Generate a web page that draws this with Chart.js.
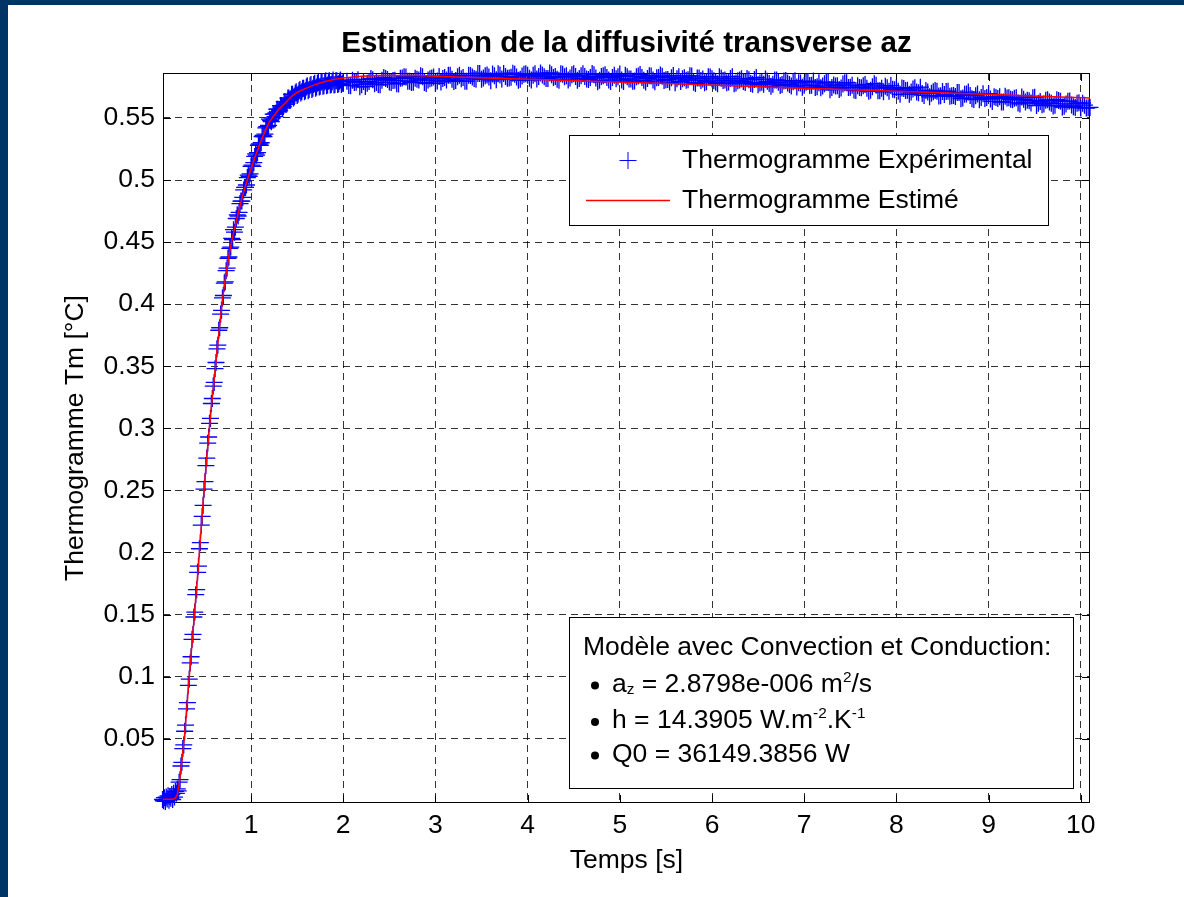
<!DOCTYPE html>
<html>
<head>
<meta charset="utf-8">
<script src="https://cdn.jsdelivr.net/npm/chart.js@4.4.0/dist/chart.umd.min.js"></script>
<style>
  html, body { margin: 0; padding: 0; background: #fff; }
  body { width: 1184px; height: 897px; overflow: hidden; position: relative; }
  #frame { position: absolute; left: 0; top: 0; width: 1184px; height: 897px; box-sizing: border-box;
           border-left: 8px solid #003366; border-top: 5px solid #003366; }
  #wrap { position: absolute; left: 8px; top: 5px; width: 1176px; height: 892px; }
</style>
</head>
<body>
<div id="frame"></div>
<div id="wrap"><canvas id="thermo" width="1176" height="892"></canvas></div>
<script>
// ---- data ----
const xTicks = [1, 2, 3, 4, 5, 6, 7, 8, 9, 10];
const yTicks = [0.05, 0.1, 0.15, 0.2, 0.25, 0.3, 0.35, 0.4, 0.45, 0.5, 0.55];

// experimental thermogram, rising part (0.01 s)
const expTimeRise = [0.04,0.05,0.06,0.07,0.08,0.09,0.10,0.11,0.12,0.13,0.14,0.15,0.16,0.17,0.18,0.19,0.20,
  0.21,0.22,0.23,0.24,0.25,0.26,0.27,0.28,0.29,0.30,0.31,0.32,0.33,0.34,0.35,0.36,0.37,0.38,0.39,0.40,
  0.41,0.42,0.43,0.44,0.45,0.46,0.47,0.48,0.49,0.50,0.51,0.52,0.53,0.54,0.55,0.56,0.57,0.58,0.59,0.60,
  0.61,0.62,0.63,0.64,0.65,0.66,0.67,0.68,0.69,0.70,0.71,0.72,0.73,0.74,0.75,0.76,0.77,0.78,0.79,0.80];
const expTempRise = [0.0010,0.0000,0.0025,-0.0005,0.0030,0.0015,0.0040,0.0005,0.0035,0.0020,0.0050,0.0010,0.0060,0.0030,0.0075,0.0060,0.0095,
  0.0080,0.0150,0.0170,0.0280,0.0310,0.0420,0.0450,0.0560,0.0610,0.0740,0.0790,0.0930,0.0980,0.1110,0.1160,0.1300,0.1340,0.1480,0.1520,0.1660,
  0.1700,0.1840,0.1890,0.2030,0.2080,0.2220,0.2290,0.2380,0.2510,0.2570,0.2700,0.2760,0.2880,0.2930,0.3040,0.3080,0.3200,0.3240,0.3340,0.3370,
  0.3480,0.3530,0.3640,0.3670,0.3790,0.3810,0.3920,0.3950,0.4050,0.4070,0.4170,0.4180,0.4270,0.4290,0.4370,0.4380,0.4450,0.4460,0.4530,0.4520];

// knee (0.01 s)
const expTimeKnee = [0.81,0.82,0.83,0.84,0.85,0.86,0.87,0.88,0.89,0.90,0.91,0.92,0.93,0.94,0.95,0.96,0.97,0.98,0.99,1.00,
  1.01,1.02,1.03,1.04,1.05,1.06,1.07,1.08,1.09,1.10,1.11,1.12,1.13,1.14,1.15,1.16,1.17,1.18,1.19,1.20,
  1.21,1.22,1.23,1.24,1.25,1.26,1.27,1.28,1.29,1.30,1.31,1.32,1.33,1.34,1.35,1.36,1.37,1.38,1.39,1.40,
  1.41,1.42,1.43,1.44,1.45,1.46,1.47,1.48,1.49,1.50,1.51,1.52,1.53,1.54,1.55,1.56,1.57,1.58,1.59,1.60,
  1.61,1.62,1.63,1.64,1.65,1.66,1.67,1.68,1.69,1.70,1.71,1.72,1.73,1.74,1.75,1.76,1.77,1.78,1.79,1.80,
  1.81,1.82,1.83,1.84,1.85,1.86,1.87,1.88,1.89,1.90,1.91,1.92,1.93,1.94,1.95,1.96,1.97,1.98,1.99,2.00];
const expTempKnee = [0.4600,0.4580,0.4620,0.4690,0.4720,0.4710,0.4740,0.4810,0.4830,0.4830,0.4860,0.4920,0.4940,0.4940,0.4960,0.5020,0.5040,0.5030,0.5050,0.5110,
  0.5120,0.5110,0.5140,0.5190,0.5210,0.5200,0.5220,0.5280,0.5290,0.5280,0.5300,0.5350,0.5360,0.5350,0.5370,0.5420,0.5430,0.5430,0.5440,0.5490,
  0.5480,0.5470,0.5500,0.5530,0.5530,0.5510,0.5540,0.5570,0.5570,0.5550,0.5560,0.5600,0.5600,0.5580,0.5590,0.5630,0.5630,0.5610,0.5620,0.5660,
  0.5660,0.5640,0.5650,0.5690,0.5690,0.5660,0.5670,0.5700,0.5710,0.5680,0.5690,0.5720,0.5730,0.5700,0.5710,0.5740,0.5740,0.5710,0.5720,0.5750,
  0.5760,0.5720,0.5730,0.5760,0.5770,0.5730,0.5740,0.5770,0.5780,0.5740,0.5750,0.5780,0.5785,0.5750,0.5755,0.5790,0.5790,0.5755,0.5760,0.5790,
  0.5800,0.5760,0.5765,0.5795,0.5800,0.5765,0.5770,0.5790,0.5805,0.5765,0.5770,0.5800,0.5800,0.5770,0.5775,0.5795,0.5805,0.5770,0.5780,0.5790];

// plateau (0.04 s, two interleaved passes)
const expTimeFlat = [2.04,2.08,2.12,2.16,2.20,2.24,2.28,2.32,2.36,2.40,2.44,2.48,2.52,2.56,2.60,2.64,2.68,2.72,2.76,2.80,
  2.84,2.88,2.92,2.96,3.00,3.04,3.08,3.12,3.16,3.20,3.24,3.28,3.32,3.36,3.40,3.44,3.48,3.52,3.56,3.60,
  3.64,3.68,3.72,3.76,3.80,3.84,3.88,3.92,3.96,4.00,4.04,4.08,4.12,4.16,4.20,4.24,4.28,4.32,4.36,4.40,
  4.44,4.48,4.52,4.56,4.60,4.64,4.68,4.72,4.76,4.80,4.84,4.88,4.92,4.96,5.00,5.04,5.08,5.12,5.16,5.20,
  5.24,5.28,5.32,5.36,5.40,5.44,5.48,5.52,5.56,5.60,5.64,5.68,5.72,5.76,5.80,5.84,5.88,5.92,5.96,6.00,
  6.04,6.08,6.12,6.16,6.20,6.24,6.28,6.32,6.36,6.40,6.44,6.48,6.52,6.56,6.60,6.64,6.68,6.72,6.76,6.80,
  6.84,6.88,6.92,6.96,7.00,7.04,7.08,7.12,7.16,7.20,7.24,7.28,7.32,7.36,7.40,7.44,7.48,7.52,7.56,7.60,
  7.64,7.68,7.72,7.76,7.80,7.84,7.88,7.92,7.96,8.00,8.04,8.08,8.12,8.16,8.20,8.24,8.28,8.32,8.36,8.40,
  8.44,8.48,8.52,8.56,8.60,8.64,8.68,8.72,8.76,8.80,8.84,8.88,8.92,8.96,9.00,9.04,9.08,9.12,9.16,9.20,
  9.24,9.28,9.32,9.36,9.40,9.44,9.48,9.52,9.56,9.60,9.64,9.68,9.72,9.76,9.80,9.84,9.88,9.92,9.96,10.00,
  10.04,10.08,10.10];
const expTempFlat = [0.5795,0.5760,0.5785,0.5808,0.5768,0.5753,0.5793,0.5808,0.5786,0.5768,0.5826,0.5809,0.5785,0.5803,0.5774,0.5821,0.5829,0.5796,0.5787,0.5812,
  0.5839,0.5786,0.5805,0.5822,0.5779,0.5834,0.5817,0.5805,0.5843,0.5794,0.5831,0.5815,0.5796,0.5843,0.5829,0.5812,0.5858,0.5821,0.5846,0.5799,
  0.5839,0.5856,0.5813,0.5833,0.5821,0.5860,0.5830,0.5811,0.5851,0.5843,0.5805,0.5855,0.5833,0.5846,0.5817,0.5863,0.5825,0.5811,0.5855,0.5832,
  0.5806,0.5848,0.5834,0.5817,0.5856,0.5814,0.5826,0.5848,0.5791,0.5833,0.5848,0.5805,0.5826,0.5815,0.5853,0.5794,0.5832,0.5813,0.5798,0.5837,
  0.5826,0.5790,0.5840,0.5806,0.5823,0.5845,0.5802,0.5810,0.5824,0.5783,0.5831,0.5815,0.5804,0.5839,0.5787,0.5821,0.5802,0.5783,0.5832,0.5815,
  0.5787,0.5831,0.5801,0.5783,0.5818,0.5775,0.5799,0.5816,0.5785,0.5807,0.5772,0.5825,0.5782,0.5772,0.5795,0.5755,0.5806,0.5787,0.5769,0.5801,
  0.5769,0.5791,0.5750,0.5782,0.5764,0.5794,0.5764,0.5746,0.5783,0.5758,0.5789,0.5727,0.5766,0.5759,0.5741,0.5783,0.5745,0.5764,0.5721,0.5745,
  0.5759,0.5740,0.5723,0.5776,0.5719,0.5740,0.5756,0.5714,0.5731,0.5744,0.5690,0.5738,0.5723,0.5709,0.5744,0.5702,0.5696,0.5722,0.5670,0.5711,
  0.5716,0.5679,0.5688,0.5715,0.5679,0.5672,0.5704,0.5661,0.5693,0.5681,0.5649,0.5692,0.5665,0.5657,0.5696,0.5633,0.5665,0.5671,0.5629,0.5660,
  0.5650,0.5659,0.5621,0.5668,0.5628,0.5639,0.5663,0.5600,0.5632,0.5613,0.5646,0.5618,0.5602,0.5641,0.5588,0.5613,0.5636,0.5590,0.5618,0.5581,
  0.5603,0.5583,0.5585];
const expTimeFlat2 = [2.06,2.10,2.14,2.18,2.22,2.26,2.30,2.34,2.38,2.42,2.46,2.50,2.54,2.58,2.62,2.66,2.70,2.74,2.78,2.82,
  2.86,2.90,2.94,2.98,3.02,3.06,3.10,3.14,3.18,3.22,3.26,3.30,3.34,3.38,3.42,3.46,3.50,3.54,3.58,3.62,
  3.66,3.70,3.74,3.78,3.82,3.86,3.90,3.94,3.98,4.02,4.06,4.10,4.14,4.18,4.22,4.26,4.30,4.34,4.38,4.42,
  4.46,4.50,4.54,4.58,4.62,4.66,4.70,4.74,4.78,4.82,4.86,4.90,4.94,4.98,5.02,5.06,5.10,5.14,5.18,5.22,
  5.26,5.30,5.34,5.38,5.42,5.46,5.50,5.54,5.58,5.62,5.66,5.70,5.74,5.78,5.82,5.86,5.90,5.94,5.98,6.02,
  6.06,6.10,6.14,6.18,6.22,6.26,6.30,6.34,6.38,6.42,6.46,6.50,6.54,6.58,6.62,6.66,6.70,6.74,6.78,6.82,
  6.86,6.90,6.94,6.98,7.02,7.06,7.10,7.14,7.18,7.22,7.26,7.30,7.34,7.38,7.42,7.46,7.50,7.54,7.58,7.62,
  7.66,7.70,7.74,7.78,7.82,7.86,7.90,7.94,7.98,8.02,8.06,8.10,8.14,8.18,8.22,8.26,8.30,8.34,8.38,8.42,
  8.46,8.50,8.54,8.58,8.62,8.66,8.70,8.74,8.78,8.82,8.86,8.90,8.94,8.98,9.02,9.06,9.10,9.14,9.18,9.22,
  9.26,9.30,9.34,9.38,9.42,9.46,9.50,9.54,9.58,9.62,9.66,9.70,9.74,9.78,9.82,9.86,9.90,9.94,9.98,10.02,
  10.06];
const expTempFlat2 = [0.5762,0.5804,0.5787,0.5751,0.5793,0.5780,0.5818,0.5775,0.5769,0.5804,0.5818,0.5789,0.5802,0.5776,0.5819,0.5831,0.5796,0.5785,0.5820,0.5805,
  0.5832,0.5778,0.5815,0.5829,0.5798,0.5790,0.5825,0.5844,0.5812,0.5802,0.5843,0.5825,0.5796,0.5841,0.5818,0.5858,0.5811,0.5840,0.5830,0.5853,
  0.5808,0.5845,0.5858,0.5820,0.5828,0.5852,0.5803,0.5838,0.5856,0.5820,0.5844,0.5813,0.5861,0.5831,0.5818,0.5847,0.5833,0.5804,0.5851,0.5839,
  0.5822,0.5856,0.5803,0.5840,0.5833,0.5810,0.5857,0.5821,0.5803,0.5839,0.5825,0.5794,0.5844,0.5832,0.5805,0.5844,0.5814,0.5795,0.5832,0.5849,
  0.5803,0.5817,0.5838,0.5791,0.5826,0.5835,0.5807,0.5789,0.5841,0.5816,0.5794,0.5824,0.5807,0.5838,0.5778,0.5821,0.5814,0.5792,0.5830,0.5799,
  0.5776,0.5820,0.5806,0.5790,0.5832,0.5781,0.5805,0.5793,0.5818,0.5778,0.5810,0.5767,0.5787,0.5813,0.5778,0.5772,0.5805,0.5761,0.5798,0.5781,
  0.5758,0.5800,0.5783,0.5747,0.5788,0.5762,0.5797,0.5751,0.5743,0.5775,0.5786,0.5745,0.5758,0.5730,0.5773,0.5784,0.5748,0.5725,0.5759,0.5744,
  0.5770,0.5715,0.5751,0.5764,0.5719,0.5710,0.5743,0.5761,0.5727,0.5715,0.5741,0.5721,0.5691,0.5734,0.5709,0.5748,0.5681,0.5708,0.5698,0.5721,
  0.5676,0.5713,0.5712,0.5674,0.5680,0.5704,0.5655,0.5690,0.5708,0.5654,0.5678,0.5647,0.5695,0.5665,0.5652,0.5671,0.5657,0.5628,0.5675,0.5663,
  0.5646,0.5662,0.5613,0.5650,0.5643,0.5620,0.5667,0.5619,0.5606,0.5642,0.5628,0.5597,0.5647,0.5635,0.5595,0.5634,0.5604,0.5585,0.5622,0.5619,
  0.5580];

// estimated thermogram (model fit)
const fitTime = [0.045,0.10,0.15,0.18,0.20,0.22,0.24,0.26,0.28,0.30,0.32,0.34,0.36,0.38,0.40,0.42,0.44,0.46,0.48,0.50,
  0.52,0.54,0.56,0.58,0.60,0.62,0.64,0.66,0.68,0.70,0.72,0.74,0.76,0.78,0.80,0.85,0.90,0.95,1.00,1.05,
  1.10,1.15,1.20,1.25,1.30,1.35,1.40,1.45,1.50,1.55,1.60,1.70,1.80,1.90,2.00,2.20,2.40,2.80,3.46,4.19,
  4.87,5.58,6.28,6.98,7.68,8.40,9.12,9.78,10.10];
const fitTemp = [0.0012,0.0012,0.0013,0.0022,0.0050,0.0130,0.0260,0.0390,0.0540,0.0720,0.0910,0.1090,0.1270,0.1450,0.1630,0.1810,0.2000,0.2200,0.2400,0.2590,
  0.2770,0.2940,0.3100,0.3250,0.3390,0.3540,0.3690,0.3830,0.3970,0.4090,0.4200,0.4300,0.4390,0.4470,0.4540,0.4700,0.4850,0.4980,0.5090,0.5200,
  0.5300,0.5390,0.5470,0.5520,0.5570,0.5605,0.5645,0.5680,0.5705,0.5725,0.5740,0.5770,0.5793,0.5810,0.5822,0.5836,0.5841,0.5842,0.5824,0.5808,
  0.5792,0.5775,0.5757,0.5740,0.5724,0.5704,0.5686,0.5668,0.5660];

const seriesNames = ['Thermogramme Expérimental', 'Thermogramme Estimé'];
const infoLines = [
  [{t: 'Modèle avec Convection et Conduction:'}],
  [{t: 'a'}, {t: 'z', sub: true}, {t: ' = 2.8798e-006 m'}, {t: '2', sup: true}, {t: '/s'}],
  [{t: 'h = 14.3905 W.m'}, {t: '-2', sup: true}, {t: '.K'}, {t: '-1', sup: true}],
  [{t: 'Q0 = 36149.3856 W'}]
];

const FONT = '"Liberation Sans", Arial, Helvetica, sans-serif';
const FS = 26.5;
Chart.defaults.font.family = FONT;
Chart.defaults.color = '#000';

const toPts = (ts, vs) => ts.map((t, i) => ({x: t, y: vs[i]}));
const expPts = toPts(expTimeRise, expTempRise)
  .concat(toPts(expTimeKnee, expTempKnee))
  .concat(toPts(expTimeFlat, expTempFlat))
  .concat(toPts(expTimeFlat2, expTempFlat2));

function drawRich(ctx, x, y, parts) {
  parts.forEach(p => {
    const s = (p.sub || p.sup) ? FS * 0.58 : FS;
    ctx.font = s + 'px ' + FONT;
    const dy = p.sub ? FS * 0.1 : p.sup ? -FS * 0.36 : 0;
    ctx.fillText(p.t, x, y + dy);
    x += ctx.measureText(p.t).width;
  });
}

// MATLAB style box + inward ticks
const axesBox = {
  id: 'axesBox',
  beforeDatasetsDraw(chart) {
    const {ctx, chartArea: a, scales: {x, y}} = chart;
    ctx.save();
    ctx.strokeStyle = '#000';
    ctx.lineWidth = 1;
    ctx.strokeRect(a.left + 0.5, a.top + 0.5, a.right - a.left - 1, a.bottom - a.top - 1);
    ctx.beginPath();
    xTicks.forEach(v => {
      const px = Math.round(x.getPixelForValue(v)) + 0.5;
      ctx.moveTo(px, a.bottom); ctx.lineTo(px, a.bottom - 8);
      ctx.moveTo(px, a.top); ctx.lineTo(px, a.top + 8);
    });
    yTicks.forEach(v => {
      const py = Math.round(y.getPixelForValue(v)) + 0.5;
      ctx.moveTo(a.left, py); ctx.lineTo(a.left + 8, py);
      ctx.moveTo(a.right, py); ctx.lineTo(a.right - 8, py);
    });
    ctx.stroke();
    ctx.restore();
  }
};

// legend box + parameter box
const boxes = {
  id: 'boxes',
  afterDatasetsDraw(chart) {
    const ctx = chart.ctx;
    ctx.save();
    // legend
    ctx.fillStyle = '#fff';
    ctx.fillRect(561, 130, 479, 90);
    ctx.strokeStyle = '#000';
    ctx.lineWidth = 1;
    ctx.strokeRect(561.5, 130.5, 479, 90);
    ctx.strokeStyle = '#0000ff';
    ctx.beginPath();
    ctx.moveTo(611.5, 155.5); ctx.lineTo(628.5, 155.5);
    ctx.moveTo(620, 147); ctx.lineTo(620, 164);
    ctx.stroke();
    ctx.strokeStyle = '#ff0000';
    ctx.lineWidth = 1.5;
    ctx.beginPath();
    ctx.moveTo(578, 195.5); ctx.lineTo(662, 195.5);
    ctx.stroke();
    ctx.fillStyle = '#000';
    ctx.font = FS + 'px ' + FONT;
    ctx.textBaseline = 'middle';
    ctx.fillText(seriesNames[0], 674, 156);
    ctx.fillText(seriesNames[1], 674, 196);

    // model parameters
    ctx.fillStyle = '#fff';
    ctx.fillRect(561, 612, 504, 171);
    ctx.strokeStyle = '#000';
    ctx.lineWidth = 1;
    ctx.strokeRect(561.5, 612.5, 504, 171);
    ctx.fillStyle = '#000';
    ctx.textBaseline = 'alphabetic';
    const base = [650, 686.5, 723, 756.5];
    drawRich(ctx, 575, base[0], infoLines[0]);
    for (let i = 1; i < infoLines.length; i++) {
      ctx.beginPath();
      ctx.arc(587, base[i] - 6, 4, 0, Math.PI * 2);
      ctx.fill();
      drawRich(ctx, 604, base[i], infoLines[i]);
    }
    ctx.restore();
  }
};

new Chart(document.getElementById('thermo'), {
  type: 'scatter',
  data: {
    datasets: [
      {
        label: seriesNames[1],
        data: toPts(fitTime, fitTemp),
        showLine: true,
        borderColor: '#ff0000',
        borderWidth: 1.5,
        pointRadius: 0,
        tension: 0,
        order: 0
      },
      {
        label: seriesNames[0],
        data: expPts,
        showLine: false,
        pointStyle: 'cross',
        pointRadius: 8.5,
        borderColor: '#0000ff',
        backgroundColor: '#0000ff',
        pointBorderWidth: 1.3,
        clip: false,
        order: 1
      }
    ]
  },
  options: {
    responsive: false,
    animation: false,
    devicePixelRatio: 1,
    events: [],
    layout: { padding: { left: 0, top: 0, right: 94, bottom: 0 } },
    plugins: {
      legend: { display: false },
      tooltip: { enabled: false },
      title: {
        display: true,
        text: 'Estimation de la diffusivité transverse az',
        fullSize: false,
        color: '#000',
        font: { size: 29.5, weight: 'bold', family: FONT },
        padding: { top: 21.3, bottom: 11.3 }
      }
    },
    scales: {
      x: {
        type: 'linear',
        min: 0.045,
        max: 10.1,
        afterBuildTicks: s => { s.ticks = xTicks.map(v => ({value: v})); },
        afterFit: s => { s.height = 94; },
        ticks: { font: { size: FS }, color: '#000', padding: 7, maxRotation: 0 },
        grid: { color: 'rgba(0,0,0,0.8)', lineWidth: 1, drawTicks: false },
        border: { display: false, dash: [7, 5] },
        title: { display: true, text: 'Temps [s]', font: { size: FS }, color: '#000', padding: { top: 0, bottom: 20 } }
      },
      y: {
        type: 'linear',
        min: -0.0018,
        max: 0.5862,
        afterBuildTicks: s => { s.ticks = yTicks.map(v => ({value: v})); },
        afterFit: s => { s.width = 155; },
        ticks: { font: { size: FS }, color: '#000', padding: 8, callback: v => String(+v.toFixed(2)) },
        grid: { color: 'rgba(0,0,0,0.8)', lineWidth: 1, drawTicks: false },
        border: { display: false, dash: [7, 5] },
        title: { display: true, text: 'Thermogramme Tm [°C]', font: { size: FS }, color: '#000', padding: { top: 52, bottom: 0 } }
      }
    }
  },
  plugins: [axesBox, boxes]
});
</script>
</body>
</html>
